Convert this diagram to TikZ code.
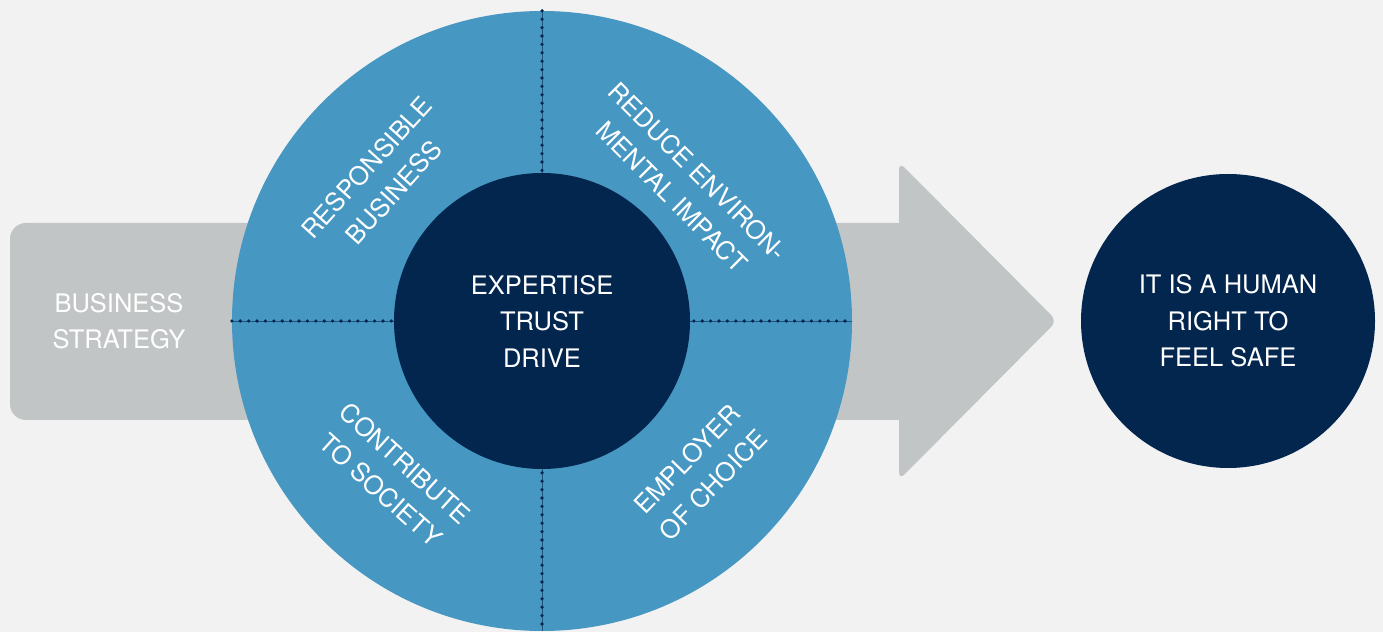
\documentclass[tikz,border=0pt]{standalone}
\usepackage{fontspec}
\setmainfont{TeX Gyre Heros}
\usepackage{xcolor}
\usepackage{tikz}

\definecolor{bggray}{HTML}{F2F2F2}
\definecolor{arrowgray}{HTML}{C2C5C6}
\definecolor{ringblue}{HTML}{4797C3}
\definecolor{navy}{HTML}{03264F}

\tikzset{
  lbl/.style={text=white, align=center, inner sep=0pt, font=\fontsize{25.5}{36.5}\selectfont},
  disc/.style={circle, draw=none, inner sep=0pt},
  dots/.style={navy, line width=3.6pt, line cap=round, dash pattern=on 0pt off 8.4pt},
  thread/.style={navy!60!ringblue, line width=0.6pt}
}

\begin{document}
\begin{tikzpicture}[x=1pt,y=1pt]
            \fill[bggray] (0,0) rectangle (1383,632);
            \useasboundingbox (0,0) rectangle (1383,632);

            \fill[arrowgray, rounded corners=16pt] (10,212) rectangle (950,409);
            \fill[arrowgray, rounded corners=8pt] (899,152) -- (1057,311) -- (899,470) -- cycle;

            \node[lbl] at (119,311) (strategy) {BUSINESS\\STRATEGY};

            \node[disc, fill=ringblue, minimum size=620pt] at (542,311) (ring) {};
            \draw[thread] (ring.north) -- (ring.south);
            \draw[thread] (ring.west) -- (ring.east);
            \draw[dots] (ring.north) -- (ring.south);
            \draw[dots] (ring.west) -- (ring.east);
            \node[disc, fill=navy, minimum size=296pt, lbl] at (542,311) (core) {EXPERTISE\\TRUST\\DRIVE};

            \node[lbl, rotate=48] at (380,452) (responsible) {RESPONSIBLE\\BUSINESS};
            \node[lbl, rotate=-45] at (685,448) (environ) {REDUCE ENVIRON-\\MENTAL IMPACT};
            \node[lbl, rotate=-42] at (393,155) (society) {CONTRIBUTE\\TO SOCIETY};
            \node[lbl, rotate=46] at (700,160) (employer) {EMPLOYER\\OF CHOICE};

            \node[disc, fill=navy, minimum size=294pt, lbl] at (1228,311) (safe) {IT IS A HUMAN\\RIGHT TO\\FEEL SAFE};
        \end{tikzpicture}
\end{document}
